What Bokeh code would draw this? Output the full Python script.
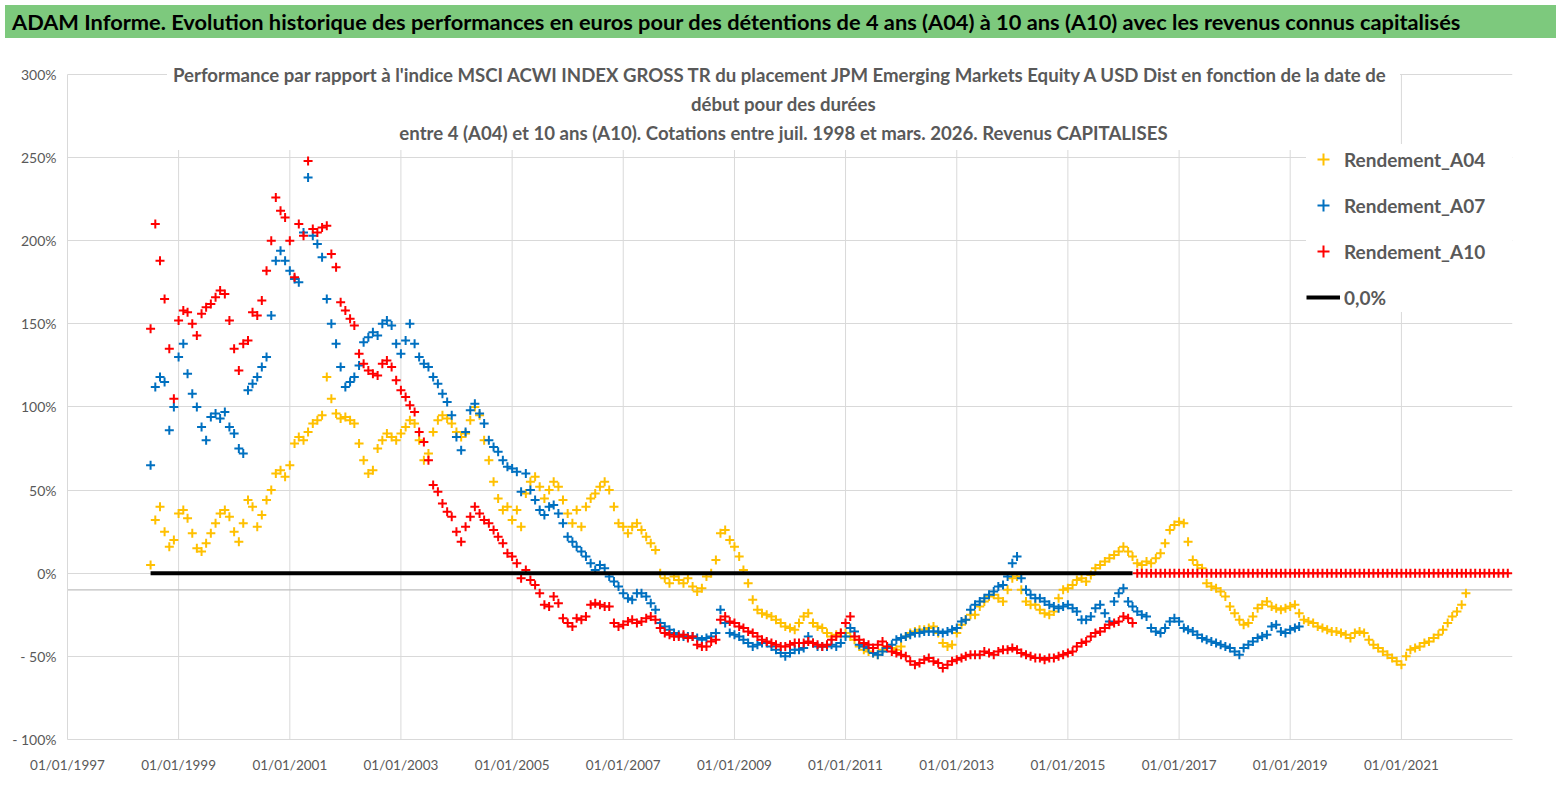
import pandas as pd
from bokeh.plotting import figure
from bokeh.models import (ColumnDataSource, FixedTicker, DatetimeTickFormatter, Label,
                          Legend, LegendItem, Span, Div, Range1d)
from bokeh.layouts import column
from bokeh.embed import file_html
from bokeh.resources import INLINE

# ---------------- texts ----------------
header_text = ("ADAM Informe. Evolution historique des performances en euros pour des détentions "
               "de 4 ans (A04) à 10 ans (A10) avec les revenus connus capitalisés")
subtitle_lines = [
    "Performance par rapport à l'indice MSCI ACWI INDEX GROSS TR  du placement JPM Emerging Markets Equity A USD Dist en fonction de la date de",
    "début pour des durées",
    "entre 4 (A04) et 10 ans (A10). Cotations entre juil. 1998 et mars. 2026. Revenus CAPITALISES",
]
series_names = ["Rendement_A04", "Rendement_A07", "Rendement_A10"]
zero_name = "0,0%"

# ---------------- data (monthly, in %) ----------------
start_month = "1998-07-01"

a04_values = [
    5, 32, 40, 25, 16, 20,                                   # 1998 Jul-Dec
    36, 38, 33, 24, 15, 13, 18, 24, 30, 36, 38, 34,          # 1999
    25, 19, 30, 44, 40, 28, 35, 44, 50, 60, 62, 58,          # 2000
    65, 78, 82, 80, 85, 90, 92, 95, 118, 105, 96, 93,        # 2001
    94, 92, 90, 78, 68, 60, 62, 75, 80, 84, 82, 80,          # 2002
    84, 88, 92, 90, 80, 68, 72, 85, 92, 95, 93, 90,          # 2003
    85, 82, 84, 92, 100, 95, 80, 68, 55, 45, 38, 40,         # 2004
    32, 38, 28, 48, 55, 58, 52, 45, 50, 55, 52, 44,          # 2005
    36, 30, 38, 28, 40, 45, 48, 52, 55, 50, 40, 30,          # 2006
    28, 24, 28, 30, 26, 22, 18, 14, 0, -3, -6, -2,           # 2007
    -4, -6, -3, -8, -11, -9, -2, 0, 8, 24, 26, 20,           # 2008
    16, 10, 2, -6, -16, -22, -24, -25, -26, -28, -30, -32,   # 2009
    -33, -34, -30, -26, -24, -30, -32, -33, -36, -38, -37, -36,  # 2010
    -36, -38, -40, -44, -46, -47, -48, -49, -46, -44, -45, -46,  # 2011
    -44, -38, -36, -35, -34, -34, -33, -32, -36, -42, -44, -43,  # 2012
    -36, -31, -28, -25, -25, -20, -17, -14, -13, -15, -17, -10,  # 2013
    -3, -2, -10, -17, -19, -19, -22, -24, -25, -23, -15, -10,    # 2014
    -9, -7, -4, -3, -5, -1, 3, 5, 7, 9, 11, 13,              # 2015
    16, 13, 10, 6, 5, 7, 6, 9, 12, 18, 26, 29,               # 2016
    31, 30, 19, 8, 5, 3, -6, -8, -9, -11, -14, -20,          # 2017
    -24, -28, -31, -30, -26, -21, -19, -17, -20, -21, -22, -21,  # 2018
    -20, -19, -24, -28, -29, -30, -32, -33, -34, -35, -35, -36,  # 2019
    -37, -39, -36, -35, -36, -40, -43, -45, -47, -49, -51, -53,  # 2020
    -55, -50, -46, -45, -44, -42, -41, -39, -37, -34, -30, -26,  # 2021
    -23, -19, -12,                                            # 2022 Jan-Mar
]

a07_values = [
    65, 112, 118, 115, 86, 100,                               # 1998 Jul-Dec
    130, 138, 120, 108, 100, 88, 80, 94, 96, 93, 97, 88,      # 1999
    84, 75, 72, 110, 114, 118, 124, 130, 155, 188, 194, 188,  # 2000
    182, 177, 175, 205, 238, 203, 198, 190, 165, 150, 138, 124,  # 2001
    112, 115, 118, 125, 139, 142, 145, 143, 150, 152, 149, 138,  # 2002
    132, 140, 150, 138, 130, 126, 124, 118, 114, 108, 103, 95,   # 2003
    82, 74, 85, 98, 102, 96, 90, 80, 76, 73, 68, 64,          # 2004
    63, 61, 49, 60, 50, 44, 38, 35, 40, 41, 36, 30,           # 2005
    22, 19, 16, 13, 10, 6, 2, 5, 3, -2, -5, -8,               # 2006
    -12, -15, -16, -12, -12, -14, -18, -22, -30, -32, -34, -36,  # 2007
    -37, -38, -38, -38, -39, -40, -39, -38, -36, -22, -30, -36,  # 2008
    -37, -38, -40, -42, -44, -43, -42, -42, -44, -46, -48, -50,  # 2009
    -48, -46, -46, -45, -38, -42, -44, -44, -44, -43, -44, -42,  # 2010
    -38, -33, -35, -43, -44, -45, -48, -49, -47, -45, -43, -40,  # 2011
    -39, -38, -37, -36, -36, -35, -35, -35, -35, -36, -35, -34,  # 2012
    -33, -29, -28, -22, -19, -17, -15, -13, -11, -8, -7, -2,     # 2013
    6, 10, -3, -10, -13, -15, -15, -17, -19, -20, -21, -20,      # 2014
    -19, -21, -23, -28, -28, -26, -21, -19, -24, -29, -17, -12,  # 2015
    -9, -17, -20, -23, -25, -26, -33, -35, -36, -33, -29, -27,   # 2016
    -29, -33, -34, -35, -37, -39, -40, -41, -42, -43, -44, -45,  # 2017
    -47, -49, -45, -43, -41, -39, -38, -37, -32, -31, -35, -36,  # 2018
    -34, -33, -32,                                            # 2019 Jan-Mar
]

a10_values = [
    147, 210, 188, 165, 135, 105,                             # 1998 Jul-Dec
    152, 158, 157, 150, 143, 156, 160, 162, 166, 170, 168, 152,  # 1999
    135, 122, 138, 140, 157, 155, 164, 182, 200, 226, 218, 214,  # 2000
    200, 178, 210, 203, 248, 207, 205, 208, 209, 192, 184, 163,  # 2001
    158, 153, 149, 132, 126, 122, 120, 119, 126, 128, 124, 116,  # 2002
    110, 106, 101, 97, 85, 79, 68, 53, 49, 42, 37, 34,        # 2003
    25, 19, 28, 34, 40, 36, 32, 30, 26, 22, 18, 12,           # 2004
    10, 6, -3, 2, -4, -7, -12, -19, -20, -14, -18, -27,       # 2005
    -30, -32, -27, -28, -26, -19, -18, -19, -20, -20, -30, -32,  # 2006
    -31, -29, -28, -30, -29, -27, -26, -28, -33, -36, -37, -38,  # 2007
    -38, -37, -39, -38, -43, -44, -44, -41, -40, -28, -26, -29,  # 2008
    -30, -32, -33, -35, -36, -38, -40, -41, -42, -43, -44, -44,  # 2009
    -43, -42, -42, -42, -41, -42, -43, -44, -43, -40, -38, -36,  # 2010
    -30, -26, -38, -40, -42, -43, -45, -43, -41, -44, -47, -48,  # 2011
    -49, -50, -53, -55, -54, -52, -51, -53, -54, -57, -55, -53,  # 2012
    -52, -51, -50, -49, -49, -49, -47, -48, -49, -47, -46, -46,  # 2013
    -45, -46, -48, -49, -50, -51, -51, -52, -51, -51, -50, -49,  # 2014
    -48, -47, -44, -42, -41, -38, -36, -35, -33, -31, -30, -29,  # 2015
    -26, -27, -30,                                            # 2016 Jan-Mar
] + [0] * 81                                                  # 2016 Apr - 2022 Dec : no 10-year data

zero_dates = ["1998-07-01", "2016-03-01"]
zero_values = [0, 0]

series_values = [a04_values, a07_values, a10_values]
series_colors = ["#FFC000", "#0070C0", "#FF0000"]

x_tick_dates = ["1997-01-01", "1999-01-01", "2001-01-01", "2003-01-01", "2005-01-01",
                "2007-01-01", "2009-01-01", "2011-01-01", "2013-01-01", "2015-01-01",
                "2017-01-01", "2019-01-01", "2021-01-01"]
y_ticks = [-100, -50, 0, 50, 100, 150, 200, 250, 300]
y_tick_labels = ["- 100%", "- 50%", "0%", "50%", "100%", "150%", "200%", "250%", "300%"]
x_start, x_end = "1997-01-01", "2023-01-01"
y_top_room = 313.2          # a little room above 300% for the chart title
axis_cross = -10

TXT = "#595959"
GRID = "#D9D9D9"
FONT = "Lato"

# ---------------- header ----------------
header = Div(text=header_text, width=1551, height=33,
             styles={"background-color": "#7DC97D", "font-family": FONT, "font-weight": "bold",
                     "font-size": "21.8px", "color": "black", "padding-left": "7px",
                     "line-height": "33px", "box-sizing": "border-box", "white-space": "nowrap"})

# ---------------- figure ----------------
p = figure(width=1551, height=744, x_axis_type="datetime",
           x_range=Range1d(pd.Timestamp(x_start), pd.Timestamp(x_end)),
           y_range=Range1d(y_ticks[0], y_top_room), output_backend="svg", toolbar_location=None,
           title=None, min_border_left=67, min_border_right=39, min_border_top=9,
           min_border_bottom=48)
p.outline_line_color = None
p.background_fill_color = "white"
p.border_fill_color = "white"

def ms(d):
    return pd.Timestamp(d).value // 10**6

xt = [ms(d) for d in x_tick_dates]
p.xaxis.ticker = FixedTicker(ticks=xt)
fmt = "%d/%m/%Y"
p.xaxis.formatter = DatetimeTickFormatter(milliseconds=fmt, seconds=fmt, minsec=fmt, minutes=fmt,
                                          hourmin=fmt, hours=fmt, days=fmt, months=fmt, years=fmt)
p.yaxis.ticker = FixedTicker(ticks=y_ticks)
p.ygrid.ticker = FixedTicker(ticks=y_ticks)
p.yaxis.major_label_overrides = {t: l for t, l in zip(y_ticks, y_tick_labels)}
p.yaxis.bounds = (y_ticks[0], y_ticks[-1])

for ax in (p.xaxis, p.yaxis):
    ax.axis_line_color = GRID
    ax.major_tick_line_color = None
    ax.minor_tick_line_color = None
    ax.major_label_text_font = FONT
    ax.major_label_text_color = TXT
p.yaxis.major_label_text_font_size = "14px"
p.xaxis.major_label_text_font_size = "13.5px"
p.yaxis.major_label_standoff = 5
p.xaxis.major_label_standoff = 11
p.xgrid.visible = False
p.ygrid.grid_line_color = GRID

# vertical grid lines, limited to the value axis extent (-100% .. 300%)
p.segment(x0=xt, y0=[y_ticks[0]] * len(xt), x1=xt, y1=[y_ticks[-1]] * len(xt),
          line_color=GRID, line_width=1, level="underlay")

p.add_layout(Span(location=axis_cross, dimension="width", line_color="#BFBFBF",
                  line_width=1.2, level="underlay"))

renderers = []
for name, vals, col in zip(series_names, series_values, series_colors):
    src = ColumnDataSource(dict(date=pd.date_range(start_month, periods=len(vals), freq="MS"),
                                v=vals))
    r = p.scatter(x="date", y="v", source=src, marker="cross", size=9,
                  line_color=col, line_width=2)
    renderers.append(r)

zsrc = ColumnDataSource(dict(date=pd.to_datetime(zero_dates), v=zero_values))
rz = p.line(x="date", y="v", source=zsrc, line_color="black", line_width=4)
renderers.append(rz)

# ---------------- subtitle ----------------
xs, xe = ms(x_start), ms(x_end)
sub = Label(x=xs + 0.4955 * (xe - xs), y=309.9, text="\n".join(subtitle_lines),
            text_align="center", text_baseline="top", text_font=FONT, text_font_style="bold",
            text_font_size="18.6px", text_color=TXT, text_line_height=1.32,
            background_fill_color="white", background_fill_alpha=1.0, padding=6)
p.add_layout(sub)

# ---------------- legend ----------------
legend = Legend(items=[LegendItem(label=n, renderers=[r]) for n, r in
                       zip(series_names + [zero_name], renderers)],
                location=(1239, 427), orientation="vertical",
                background_fill_color="white", background_fill_alpha=1.0,
                border_line_color=None, label_text_font=FONT, label_text_font_style="bold",
                label_text_font_size="19px", label_text_color=TXT, glyph_width=34,
                glyph_height=30, label_height=30, spacing=16, padding=12, label_standoff=4,
                margin=0, label_width=180)
p.add_layout(legend)

layout = column(header, p, spacing=0)
open("out.html", "w", encoding="utf-8").write(file_html(layout, INLINE))
